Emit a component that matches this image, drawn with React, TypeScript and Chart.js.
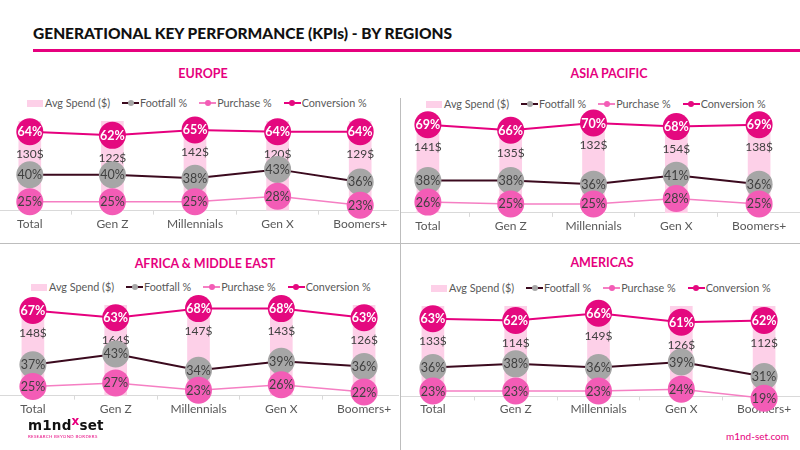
import React, { useEffect, useRef } from "react";
import { Chart, registerables } from "chart.js";

Chart.register(...registerables);

// ---------- DATA ----------
const categories = ["Total", "Gen Z", "Millennials", "Gen X", "Boomers+"];
const seriesNames = ["Avg Spend ($)", "Footfall %", "Purchase %", "Conversion %"];

const europeSpend = [130, 122, 142, 120, 129];
const europeFootfall = [40, 40, 38, 43, 36];
const europePurchase = [25, 25, 25, 28, 23];
const europeConversion = [64, 62, 65, 64, 64];

const asiaSpend = [141, 135, 132, 154, 138];
const asiaFootfall = [38, 38, 36, 41, 36];
const asiaPurchase = [26, 25, 25, 28, 25];
const asiaConversion = [69, 66, 70, 68, 69];

const africaSpend = [148, 164, 147, 143, 126];
const africaFootfall = [37, 43, 34, 39, 36];
const africaPurchase = [25, 27, 23, 26, 22];
const africaConversion = [67, 63, 68, 68, 63];

const americasSpend = [133, 114, 149, 126, 112];
const americasFootfall = [36, 38, 36, 39, 31];
const americasPurchase = [23, 23, 23, 24, 19];
const americasConversion = [63, 62, 66, 61, 62];

// ---------- STYLE ----------
const FONT = "Lato, 'Noto Sans', sans-serif";
const MAGENTA = "#e6007e";
const BAR_COLOR = "#fdd0e8";
const FOOT_LINE = "#3b0a1e";
const FOOT_POINT = "#a6a6a6";
const PURCH_LINE = "#f57fc3";
const PURCH_POINT = "#f35cb6";
const CONV_LINE = "#e6007e";
const CONV_POINT = "#e4097f";
const TEXT_DARK = "#404040";
const TEXT_GRAY = "#595959";

const labelPlugin = {
  id: "valueLabels",
  afterDatasetDraw(chart: any, args: any) {
    const ds: any = chart.data.datasets[args.index];
    const meta = args.meta;
    const conv = chart.getDatasetMeta(3);
    const ctx = chart.ctx;
    ctx.save();
    ctx.textAlign = "center";
    ctx.textBaseline = "middle";
    ctx.font = ds.labelFont;
    ctx.fillStyle = ds.labelColor;
    meta.data.forEach((el: any, i: number) => {
      const v = ds.data[i];
      let y = el.y;
      if (ds.type === "bar") y = conv.data[i].y + 22;
      ctx.fillText(ds.type === "bar" ? `${v}$` : `${v}%`, el.x, y + 0.5);
    });
    ctx.restore();
  },
};

type RegionProps = {
  spend: number[];
  footfall: number[];
  purchase: number[];
  conversion: number[];
  box: { left: number; top: number; width: number; height: number };
};

function RegionChart({ spend, footfall, purchase, conversion, box }: RegionProps) {
  const ref = useRef<HTMLCanvasElement | null>(null);
  useEffect(() => {
    if (!ref.current) return;
    const chart = new Chart(ref.current, {
      type: "bar",
      data: {
        labels: categories,
        datasets: [
          {
            type: "bar",
            label: seriesNames[0],
            data: spend,
            yAxisID: "y1",
            backgroundColor: BAR_COLOR,
            barThickness: 22,
            order: 4,
            clip: 0,
            labelFont: `400 12px ${FONT}`,
            labelColor: TEXT_DARK,
          } as any,
          {
            type: "line",
            label: seriesNames[1],
            data: footfall,
            yAxisID: "y",
            borderColor: FOOT_LINE,
            borderWidth: 2,
            pointRadius: 13.5,
            pointBackgroundColor: FOOT_POINT,
            pointBorderColor: FOOT_POINT,
            pointBorderWidth: 0,
            order: 3,
            clip: false,
            labelFont: `400 12.5px ${FONT}`,
            labelColor: TEXT_DARK,
          } as any,
          {
            type: "line",
            label: seriesNames[2],
            data: purchase,
            yAxisID: "y",
            borderColor: PURCH_LINE,
            borderWidth: 1.5,
            pointRadius: 13.5,
            pointBackgroundColor: PURCH_POINT,
            pointBorderColor: PURCH_POINT,
            pointBorderWidth: 0,
            order: 2,
            clip: false,
            labelFont: `400 12.5px ${FONT}`,
            labelColor: TEXT_DARK,
          } as any,
          {
            type: "line",
            label: seriesNames[3],
            data: conversion,
            yAxisID: "y",
            borderColor: CONV_LINE,
            borderWidth: 2,
            pointRadius: 13.5,
            pointBackgroundColor: CONV_POINT,
            pointBorderColor: CONV_POINT,
            pointBorderWidth: 0,
            order: 1,
            clip: false,
            labelFont: `700 12.5px ${FONT}`,
            labelColor: "#ffffff",
          } as any,
        ],
      },
      options: {
        animation: false,
        responsive: true,
        maintainAspectRatio: false,
        layout: { padding: { top: 15, left: 10, right: 10, bottom: 0 } },
        plugins: {
          legend: { display: false },
          tooltip: { enabled: false },
        },
        scales: {
          x: {
            offset: true,
            grid: {
              offset: true,
              drawOnChartArea: false,
              drawTicks: true,
              tickLength: 4,
              color: "#d9d9d9",
            },
            border: { color: "#d9d9d9", width: 1 },
            ticks: {
              color: TEXT_GRAY,
              padding: 2,
              font: { family: FONT, size: 12 },
              maxRotation: 0,
              autoSkip: false,
            },
          },
          y: { display: false, min: 20, max: 70 },
          y1: { display: false, min: 0, max: 100 },
        },
      },
      plugins: [labelPlugin],
    });
    return () => chart.destroy();
  }, []);
  return (
    <div style={{ position: "absolute", ...box }}>
      <canvas ref={ref} />
    </div>
  );
}

function LineMarker({ line, dot }: { line: string; dot: string }) {
  return (
    <span style={{ position: "relative", display: "inline-block", width: 17, height: 10, marginRight: 1 }}>
      <span style={{ position: "absolute", left: 0, right: 0, top: 4, height: 2, background: line }} />
      <span
        style={{ position: "absolute", left: 5.5, top: 2, width: 6, height: 6, borderRadius: 3, background: dot }}
      />
    </span>
  );
}

function Legend({ left, top }: { left: number; top: number }) {
  const txt: React.CSSProperties = { marginRight: 12 };
  return (
    <div
      style={{
        position: "absolute",
        left,
        top,
        display: "flex",
        alignItems: "center",
        fontSize: 10.8,
        color: TEXT_GRAY,
        whiteSpace: "nowrap",
        lineHeight: "14px",
      }}
    >
      <span style={{ display: "inline-block", width: 16, height: 7, background: BAR_COLOR, marginRight: 2 }} />
      <span style={txt}>{seriesNames[0]}</span>
      <LineMarker line={FOOT_LINE} dot={FOOT_POINT} />
      <span style={txt}>{seriesNames[1]}</span>
      <LineMarker line={PURCH_LINE} dot={PURCH_POINT} />
      <span style={txt}>{seriesNames[2]}</span>
      <LineMarker line={CONV_LINE} dot={CONV_POINT} />
      <span>{seriesNames[3]}</span>
    </div>
  );
}

function SectionTitle({ cx, cy, text }: { cx: number; cy: number; text: string }) {
  return (
    <div
      style={{
        position: "absolute",
        left: cx - 150,
        width: 300,
        top: cy - 9,
        textAlign: "center",
        color: MAGENTA,
        fontWeight: 700,
        fontSize: 12.5,
        lineHeight: "18px",
      }}
    >
      {text}
    </div>
  );
}

function Panel({ left, top, width, height, children }: any) {
  return (
    <div style={{ position: "absolute", left, top, width, height, overflow: "hidden" }}>{children}</div>
  );
}

export default function App() {
  return (
    <div
      style={{
        position: "fixed",
        left: 0,
        top: 0,
        width: 800,
        height: 450,
        background: "#fff",
        overflow: "hidden",
        fontFamily: FONT,
      }}
    >
      <div
        style={{
          position: "absolute",
          left: 33,
          top: 23,
          fontSize: 15.5,
          fontWeight: 900,
          color: "#111",
          whiteSpace: "nowrap",
          lineHeight: "20px",
        }}
      >
        GENERATIONAL KEY PERFORMANCE (KPIs) - BY REGIONS
      </div>
      <div style={{ position: "absolute", left: 33, top: 49, width: 767, height: 3, background: MAGENTA }} />

      {/* dividers */}
      <div style={{ position: "absolute", left: 399.5, top: 98, width: 1.5, height: 352, background: "#bdbdbd" }} />
      <div style={{ position: "absolute", left: 0, top: 242.5, width: 800, height: 1.5, background: "#bdbdbd" }} />

      <SectionTitle cx={203} cy={74} text="EUROPE" />
      <SectionTitle cx={609} cy={74} text="ASIA PACIFIC" />
      <SectionTitle cx={205} cy={264} text="AFRICA & MIDDLE EAST" />
      <SectionTitle cx={602} cy={263} text="AMERICAS" />

      <Legend left={27} top={96} />
      <Legend left={426} top={97} />
      <Legend left={31} top={280} />
      <Legend left={431} top={281} />

      <Panel left={0} top={95} width={399} height={145}>
        <RegionChart
          spend={europeSpend}
          footfall={europeFootfall}
          purchase={europePurchase}
          conversion={europeConversion}
          box={{ left: -25, top: 11, width: 440, height: 127 }}
        />
      </Panel>
      <Panel left={401} top={95} width={399} height={145}>
        <RegionChart
          spend={asiaSpend}
          footfall={asiaFootfall}
          purchase={asiaPurchase}
          conversion={asiaConversion}
          box={{ left: -28, top: 12.7, width: 441, height: 127.3 }}
        />
      </Panel>
      <Panel left={0} top={290} width={399} height={160}>
        <RegionChart
          spend={africaSpend}
          footfall={africaFootfall}
          purchase={africaPurchase}
          conversion={africaConversion}
          box={{ left: -22, top: 0, width: 441, height: 128 }}
        />
      </Panel>
      <Panel left={401} top={290} width={399} height={160}>
        <RegionChart
          spend={americasSpend}
          footfall={americasFootfall}
          purchase={americasPurchase}
          conversion={americasConversion}
          box={{ left: -23, top: 0.5, width: 441, height: 127.8 }}
        />
      </Panel>

      {/* logo */}
      <div style={{ position: "absolute", left: 28, top: 419, lineHeight: "13px" }}>
        <div style={{ fontSize: 13.5, fontWeight: 900, color: "#111", letterSpacing: 0.2, fontFamily: "'DejaVu Sans', sans-serif" }}>
          m1nd
          <span style={{ color: MAGENTA, fontWeight: 700, fontSize: 12, position: "relative", top: -5 }}>x</span>
          set
        </div>
        <div style={{ fontSize: 4.4, color: MAGENTA, letterSpacing: 0.3, lineHeight: "6px", marginTop: 1 }}>
          RESEARCH BEYOND BORDERS
        </div>
      </div>
      <div style={{ position: "absolute", right: 11, top: 430, fontSize: 10, color: MAGENTA }}>m1nd-set.com</div>
    </div>
  );
}
